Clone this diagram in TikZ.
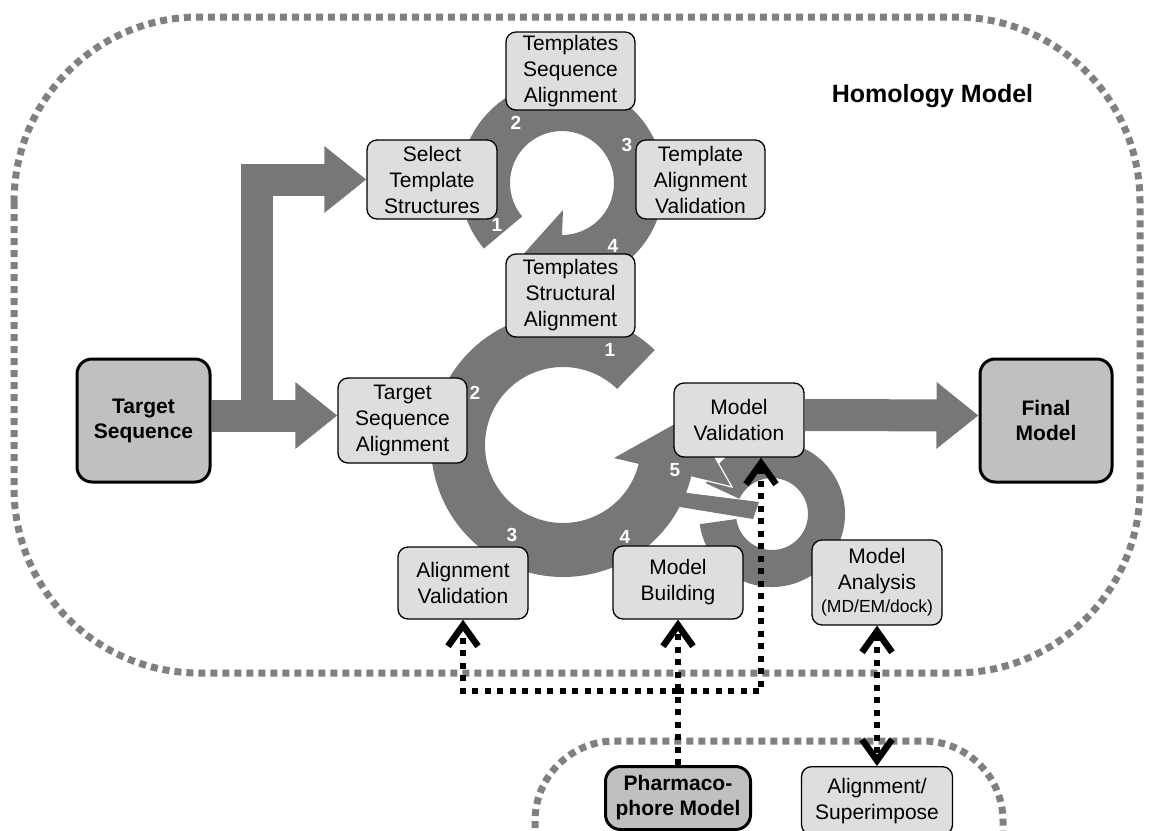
\documentclass[tikz,border=0pt]{standalone}
\usepackage{fontspec}
\setmainfont{Liberation Sans}
\usetikzlibrary{arrows.meta,calc}
\definecolor{ringgray}{HTML}{777777}
\definecolor{framegray}{HTML}{808080}
\definecolor{boxfill}{HTML}{DEDEDE}
\definecolor{darkfill}{HTML}{C0C0C0}
\begin{document}
\begin{tikzpicture}[x=1pt,y=-1pt,
  frame/.style={draw=framegray, line width=7pt, dash pattern=on 7pt off 5pt},
  ring/.style={fill=ringgray},
  box/.style={draw=black, line width=1.3pt, rounded corners=10pt, fill=boxfill,
    align=center, inner sep=0pt, font=\fontsize{21}{26}\selectfont},
  keybox/.style={box, fill=darkfill, line width=3pt, rounded corners=15pt,
    font=\bfseries\fontsize{21}{25}\selectfont},
  num/.style={text=white, font=\bfseries\fontsize{19}{19}\selectfont, inner sep=0pt},
  fat/.style={draw=ringgray, line width=32pt, line join=miter,
    -{Triangle[length=42pt,width=64pt]}},
  dotarr/.style={draw=black, line width=6pt, dash pattern=on 6pt off 6.5pt,
    >={Straight Barb[length=21pt,width=30pt,line width=6.5pt]}}]
\useasboundingbox (0,0) rectangle (1150,830);
\clip (0,0) rectangle (1150,830);

% dotted frames
\draw[frame, rounded corners=185pt] (14,17) rectangle (1140,673);
\draw[frame, rounded corners=80pt] (535,900) -- (535,741) -- (1003,741) -- (1003,900);

% small loop (model analysis)
\fill[ring] ([shift={(772,514)}]205:73) arc[start angle=205,end angle=532,radius=73]
  -- ([shift={(772,514)}]172:36) arc[start angle=172,end angle=-155,radius=36] -- cycle;
\fill[ring] (680,492) -- (759,502) -- (753,519) -- (680,507) -- cycle;

% large loop (model building)
\fill[ring] ([shift={(563,445)}]314:132) arc[start angle=314,end angle=14,radius=132]
  -- (732,487) -- (691,415) -- (614,458)
  -- ([shift={(563,445)}]14:78) arc[start angle=14,end angle=314,radius=78] -- cycle;
\draw[white, line width=1.2pt] (691,415) -- (732,487) -- ([shift={(563,445)}]14:132);

% upper loop (templates)
\fill[ring] ([shift={(562,183)}]140:102) arc[start angle=140,end angle=450,radius=102]
  -- (562,313) -- (520,258) -- (563,210)
  -- ([shift={(562,183)}]90:52) arc[start angle=90,end angle=-220,radius=52] -- cycle;

% boxes
\node[box, minimum width=129pt, minimum height=78pt] (tsq) at (570.5,71) {Templates\\Sequence\\Alignment};
\node[box, minimum width=130pt, minimum height=79pt] (sts) at (432,179.5) {Select\\Template\\Structures};
\node[box, minimum width=129pt, minimum height=79pt] (tav) at (700.5,179.5) {Template\\Alignment\\Validation};
\node[box, minimum width=129pt, minimum height=83pt] (tstr) at (570.5,295.5) {Templates\\Structural\\Alignment};
\node[box, minimum width=129pt, minimum height=85pt] (tsa) at (402.5,420.5) {Target\\Sequence\\Alignment};
\node[box, minimum width=130pt, minimum height=74pt] (mval) at (739,420) {Model\\Validation};
\node[box, minimum width=130pt, minimum height=72pt] (aval) at (463,583) {Alignment\\Validation};
\node[box, minimum width=130pt, minimum height=73pt] (mbuild) at (678,582.5) {Model\\Building};
\node[box, minimum width=130pt, minimum height=85pt] (manal) at (877,582.5)
  {Model\\Analysis\\[-3pt]{\fontsize{17.5}{21}\selectfont (MD/EM/dock)}};
\node[box, minimum width=151pt, minimum height=68pt, anchor=north] (alsup) at (877,766) {Alignment/\\Superimpose};
\node[keybox, minimum width=145pt, minimum height=63pt, anchor=north] (pharma) at (678,765) {Pharmaco-\\phore Model};
\node[keybox, minimum width=133pt, minimum height=123pt] (ts) at (143.5,420.5) {Target\\Sequence};
\node[keybox, minimum width=132pt, minimum height=123pt] (fm) at (1046,420.5) {Final\\Model};

% main flow arrows
\coordinate (br) at (257,415);
\draw[fat] ([yshift=5pt]ts.east) -- ([yshift=5pt]tsa.west);
\draw[fat] (br) |- (sts.west);
\draw[fat] ([yshift=5pt]mval.east) -- ([yshift=5pt]fm.west);

% step numbers
\node[num] at (516,123) {2};
\node[num] at (627,145) {3};
\node[num] at (497,225) {1};
\node[num] at (613,246) {4};
\node[num] at (610,350) {1};
\node[num] at (475,393) {2};
\node[num] at (512,535) {3};
\node[num] at (625,537) {4};
\node[num] at (675,470) {5};

\node[anchor=base, font=\bfseries\fontsize{25}{25}\selectfont] (title) at (932.5,102) {Homology Model};

% pharmacophore links
\coordinate (jn) at (678,691);
\draw[dotarr, ->] (pharma.north) -- (mbuild.south);
\draw[dotarr, ->] (jn) -| (aval.south);
\draw[dotarr, ->] (jn) -| ([xshift=22pt]mval.south);
\draw[dotarr, <->] (manal.south) -- (alsup.north);
\end{tikzpicture}
\end{document}
